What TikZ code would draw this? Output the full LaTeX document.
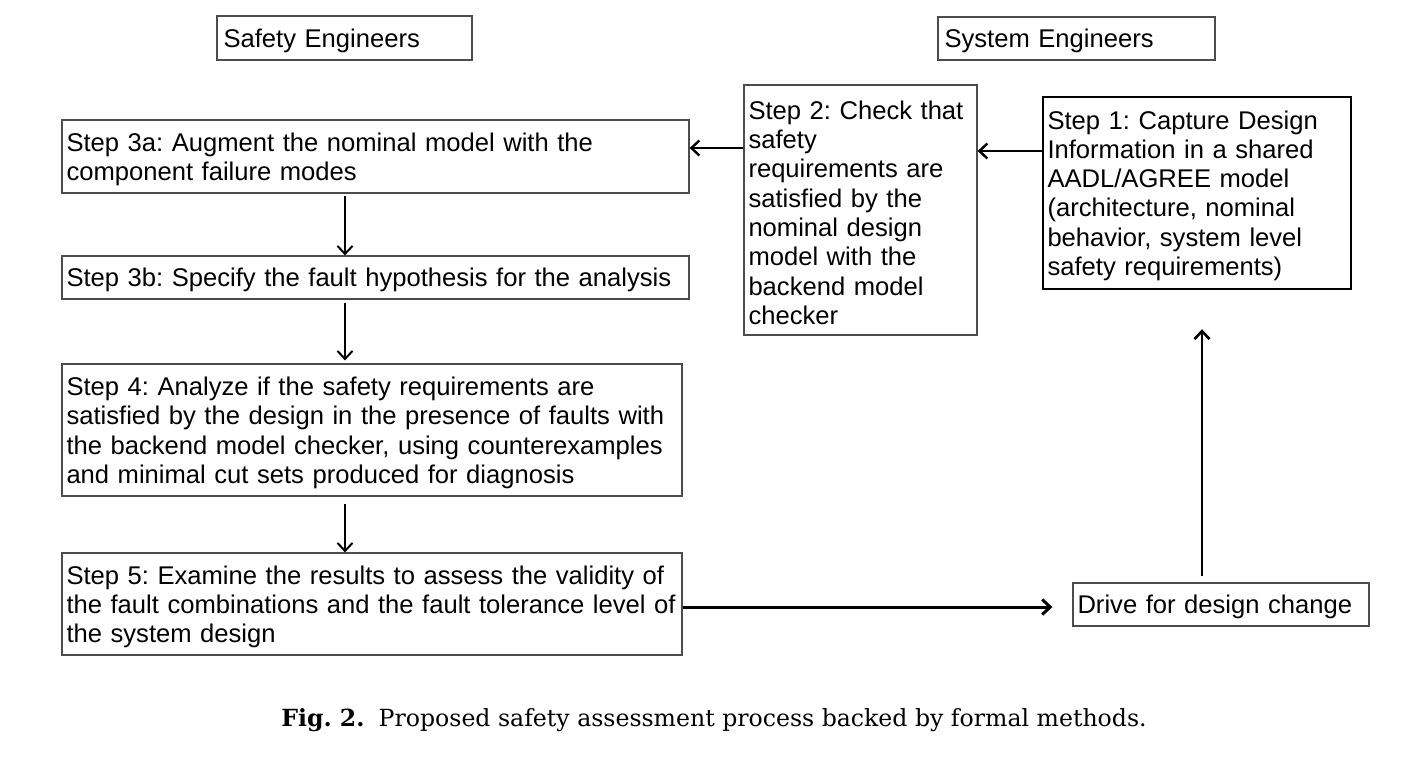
\documentclass[tikz,border=0pt]{standalone}
\usepackage{fontspec}
\setmainfont{Liberation Sans}
\newfontfamily\capfont{DejaVu Serif}
\usetikzlibrary{arrows.meta}
\frenchspacing
\begin{document}
\begin{tikzpicture}[x=1pt,y=-1pt]
\useasboundingbox (0,0) rectangle (1425,764);
\tikzstyle{box}=[draw=black!70,line width=1.2pt,inner xsep=4.5pt,inner ysep=0pt,align=left,font=\fontsize{25.6}{29.3}\selectfont,execute at begin node={\rule{0pt}{24pt}}];
\tikzstyle{arr}=[line width=2pt,-{Straight Barb[length=8pt,width=15pt]}];
\node[box,text width=246pt,minimum height=44pt] (se) at (344.5,38) {\hspace*{2pt}Safety Engineers};
\node[box,text width=268pt,minimum height=43pt] (sy) at (1076.5,38.5) {\hspace*{2pt}System Engineers};
\node[box,text width=618pt,minimum height=73pt] (s3a) at (375.5,156.5) {Step 3a: Augment the nominal model with the\\component failure modes};
\node[box,text width=618pt,minimum height=43pt] (s3b) at (375.5,277.5) {Step 3b: Specify the fault hypothesis for the analysis};
\node[box,text width=611pt,minimum height=132pt] (s4) at (372,430) {Step 4: Analyze if the safety requirements are\\satisfied by the design in the presence of faults with\\the backend model checker, using counterexamples\\and minimal cut sets produced for diagnosis};
\node[box,text width=611pt,minimum height=102pt] (s5) at (372,604) {Step 5: Examine the results to assess the validity of\\the fault combinations and the fault tolerance level of\\the system design};
\node[box,text width=224pt,minimum height=250pt] (s2) at (860.5,210) {Step 2: Check that\\safety\\requirements are\\satisfied by the\\nominal design\\model with the\\backend model\\checker};
\node[box,draw=black,line width=2.4pt,text width=299pt,minimum height=192pt] (s1) at (1197,193) {Step 1: Capture Design\\Information in a shared\\AADL/AGREE model\\(architecture, nominal\\behavior, system level\\safety requirements)};
\node[box,text width=287pt,minimum height=43pt] (dc) at (1221,604.5) {Drive for design change};
\node[inner sep=0pt] (cap) at (714,720) {\capfont\fontsize{23.6}{28}\selectfont\textbf{Fig. 2.}\hspace{0.6em}Proposed safety assessment process backed by formal methods.};
\coordinate (r1) at (0,151);
\coordinate (r2) at (0,148);
\coordinate (r3) at (0,607);
\coordinate (c1) at (345,0);
\coordinate (c2) at (1202,0);
\draw[arr,line width=2.4pt] (s1.west |- r1) -- (s2.east |- r1);
\draw[arr,line width=2.4pt] (s2.west |- r2) -- (s3a.east |- r2);
\draw[arr,shorten <=2pt] (s3a.south -| c1) -- (s3b.north -| c1);
\draw[arr,shorten <=3pt,shorten >=3pt] (s3b.south -| c1) -- (s4.north -| c1);
\draw[arr,shorten <=7pt] (s4.south -| c1) -- (s5.north -| c1);
\draw[arr,line width=3pt,shorten >=20pt] (s5.east |- r3) -- (dc.west |- r3);
\draw[arr,line width=2.6pt,shorten <=6pt,shorten >=39pt] (dc.north -| c2) -- (s1.south -| c2);
%\draw[help lines] (0,0) grid[step=100] (1425,764);
\end{tikzpicture}
\end{document}
